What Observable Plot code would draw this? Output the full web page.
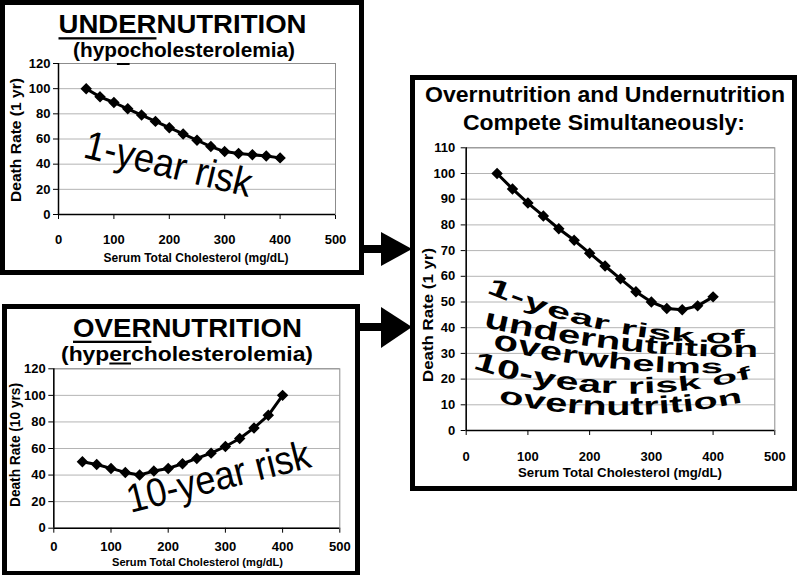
<!DOCTYPE html>
<html><head><meta charset="utf-8">
<script src="https://cdn.jsdelivr.net/npm/d3@7"></script>
<script src="https://cdn.jsdelivr.net/npm/@observablehq/plot@0.6"></script>
<style>
html,body{margin:0;padding:0;background:#fff;}
#page{position:relative;width:800px;height:575px;overflow:hidden;background:#fff;}
#page svg{position:absolute;}
</style></head>
<body><div id="page"></div>
<script>
// ---------------- data ----------------
const cholesterol = [50, 75, 100, 125, 150, 175, 200, 225, 250, 275, 300, 325, 350, 375, 400];
const undernutritionRate = [100, 93.5, 89, 84, 79, 74, 69, 64, 59, 54, 50, 48.5, 47.5, 46.5, 45];
const overnutritionRate = [50, 48, 45, 42, 40, 43, 45, 48.5, 52.5, 56.5, 61.5, 67.5, 75.5, 85, 100];
const combinedRate = [100, 94, 88.5, 83.5, 78.5, 74, 69, 64, 59, 54, 50, 47.5, 47, 48.5, 52];
const xTicks = [0, 100, 200, 300, 400, 500];
const yTicksSingle = [0, 20, 40, 60, 80, 100, 120];
const yTicksCombined = [0, 10, 20, 30, 40, 50, 60, 70, 80, 90, 100, 110];
const xAxisTitle = "Serum Total Cholesterol (mg/dL)";
const yAxisTitles = ["Death Rate (1 yr)", "Death Rate (10 yrs)", "Death Rate (1 yr)"];
const panelTitles = ["UNDERNUTRITION", "OVERNUTRITION", "Overnutrition and Undernutrition"];
const panelSubtitles = ["(hypocholesterolemia)", "(hypercholesterolemia)", "Compete Simultaneously:"];
const riskLabels = [
  {text: "1-year risk", x: 198, y: 39.7},
  {text: "10-year risk", x: 288, y: 38.2}
];
const wordArtLines = [
  {text: "1-year risk of",  x: [31.3, 201.4, 452.5], y: [53.7, 40.1, 33.9], h: [13, 11, 10]},
  {text: "undernutrition",  x: [28.0, 185.2, 473.6], y: [40.1, 33.1, 28.4], h: [15, 13, 12]},
  {text: "overwhelms",      x: [42.6, 217.6, 416.9], y: [31.9, 24.5, 22.2], h: [15, 12.5, 10]},
  {text: "10-year risk of", x: [10.2, 201.4, 463.9], y: [24.1, 14.8, 20.2], h: [13.5, 12.5, 9]},
  {text: "overnutrition",   x: [52.3, 250.0, 449.3], y: [10.9, 5.8, 10.9], h: [12, 13.5, 10]}
];

// ---------------- helpers ----------------
const FONT = '"Liberation Sans", Arial, Helvetica, sans-serif';
const NARROW = '"Liberation Sans Narrow", "Arial Narrow", "Liberation Sans", Arial, sans-serif';
const page = document.getElementById("page");

function panel(cfg) {
  const data = cholesterol.map((c, i) => ({c, r: cfg.rates[i]}));
  const chart = Plot.plot({
    width: cfg.w, height: cfg.h,
    marginLeft: cfg.ml, marginRight: cfg.mr, marginTop: cfg.mt, marginBottom: cfg.mb,
    style: {fontFamily: FONT, fontSize: "13px", fontWeight: "bold", color: "#000", background: "transparent", overflow: "visible"},
    x: {domain: [0, 500], ticks: xTicks, tickSize: 5, tickPadding: cfg.xPad, label: null},
    y: {domain: [0, d3.max(cfg.yTicks)], ticks: cfg.yTicks, tickSize: 5, tickPadding: cfg.yPad, label: null},
    marks: [
      Plot.ruleY(cfg.yTicks.filter(d => d > 0), {stroke: "#b4b4b4", strokeWidth: 1}),
      Plot.frame({stroke: "#8c8c8c"}),
      Plot.ruleY([0], {stroke: "#000", strokeWidth: 1.5}),
      Plot.ruleX([0], {stroke: "#000", strokeWidth: 1.5}),
      Plot.line(data, {x: "c", y: "r", stroke: "#000", strokeWidth: 3}),
      Plot.dot(data, {x: "c", y: "r", symbol: "diamond2", r: 4.2, fill: "#000", stroke: "#000"}),
      ...(cfg.extra || [])
    ]
  });
  chart.style.left = cfg.x + "px";
  chart.style.top = cfg.y + "px";
  page.appendChild(chart);
  return chart;
}

function riskMark(label, rotate) {
  return Plot.text([label], {x: "x", y: "y", text: "text", rotate, fontSize: 40, fontWeight: "normal",
    fontFamily: NARROW, textAnchor: "middle", lineAnchor: "middle", fill: "#000"});
}
function fitText(chart, content, len) {
  d3.select(chart).selectAll("text").filter(function () { return this.textContent === content; })
    .attr("textLength", len).attr("lengthAdjust", "spacingAndGlyphs");
}

// ---------------- panels ----------------
const chart1 = panel({rates: undernutritionRate, yTicks: yTicksSingle, x: 5, y: 5, w: 354, h: 265,
  ml: 53, mr: 24, mt: 58, mb: 56, xPad: 14.8, yPad: 3, extra: [riskMark(riskLabels[0], 13.6)]});
const chart2 = panel({rates: overnutritionRate, yTicks: yTicksSingle, x: 7, y: 309, w: 348, h: 262,
  ml: 46.3, mr: 15.7, mt: 59.3, mb: 43.3, xPad: 8.8, yPad: 3, extra: [riskMark(riskLabels[1], -14.2)]});
const chart3 = panel({rates: combinedRate, yTicks: yTicksCombined, x: 415, y: 80, w: 377, h: 406,
  ml: 50.7, mr: 17.7, mt: 67.3, mb: 56, xPad: 15.8, yPad: 6});
fitText(chart1, riskLabels[0].text, 171);
fitText(chart2, riskLabels[1].text, 188);

// WordArt-style warped text in panel 3, positioned through the chart's scales
function scaleOf(chart, name) {
  const s = chart.scale(name);
  return d3.scaleLinear(s.domain, s.range);
}
(function drawWordArt() {
  const sx = scaleOf(chart3, "x"), sy = scaleOf(chart3, "y");
  const g = d3.select(chart3).append("g")
    .attr("font-family", FONT).attr("font-weight", "bold")
    .attr("font-size", 100).attr("fill", "#000");
  for (const L of wordArtLines) {
    const px = L.x.map(sx), py = L.y.map(sy);
    const m = g.append("text").attr("x", 0).attr("y", -2000).style("white-space", "pre").text(L.text);
    const node = m.node();
    const chars = Array.from(L.text);
    const widths = chars.map((_, i) => node.getSubStringLength(i, 1));
    m.remove();
    const W = d3.sum(widths);
    const kx = (px[2] - px[0]) / W;
    const lag = (vals, X) => {
      const [x0, x1, x2] = px, [v0, v1, v2] = vals;
      return v0 * (X - x1) * (X - x2) / ((x0 - x1) * (x0 - x2))
           + v1 * (X - x0) * (X - x2) / ((x1 - x0) * (x1 - x2))
           + v2 * (X - x0) * (X - x1) / ((x2 - x0) * (x2 - x1));
    };
    let cum = 0;
    chars.forEach((ch, i) => {
      const c = cum + widths[i] / 2; cum += widths[i];
      if (ch === " ") return;
      const X = px[0] + c * kx;
      const Y = lag(py, X);
      const slope = (lag(py, X + 1) - lag(py, X - 1)) / 2;
      const ang = Math.atan(slope) * 180 / Math.PI;
      const ky = lag(L.h, X) / 51.9;
      g.append("text").attr("text-anchor", "middle")
        .attr("transform", `translate(${X},${Y}) rotate(${ang}) scale(${kx},${ky})`).text(ch);
    });
  }
})();

// ---------------- overlay: frames, arrows, titles ----------------
const ov = d3.create("svg").attr("width", 800).attr("height", 575)
  .style("left", "0px").style("top", "0px").style("pointer-events", "none");
page.appendChild(ov.node());

[[2.5, 2.5, 359, 270], [4.5, 306.5, 353, 267], [412.5, 77.5, 382, 411]].forEach(([x, y, w, h]) =>
  ov.append("rect").attr("x", x).attr("y", y).attr("width", w).attr("height", h)
    .attr("fill", "none").attr("stroke", "#000").attr("stroke-width", 5));

[[360, 249, 232, 266], [355, 327, 307, 348]].forEach(([x0, cy, t, b]) => {
  ov.append("rect").attr("x", x0).attr("y", cy - 4).attr("width", 383 - x0).attr("height", 8).attr("fill", "#000");
  ov.append("polygon").attr("points", `381,${t} 381,${b} 412,${cy}`).attr("fill", "#000");
});

function addText({text, x, y, size, len, weight = "bold", rotate = 0, family = FONT}) {
  const t = ov.append("text").attr("text-anchor", "middle").attr("font-size", size)
    .attr("font-weight", weight).attr("font-family", family).attr("fill", "#000").text(text);
  if (rotate) t.attr("transform", `translate(${x},${y}) rotate(${rotate})`);
  else t.attr("x", x).attr("y", y);
  if (len) t.attr("textLength", len).attr("lengthAdjust", "spacingAndGlyphs");
  return t;
}
function underline(t, i0, i1, y, thick) {
  const n = t.node();
  const a = n.getStartPositionOfChar(i0).x, b = n.getEndPositionOfChar(i1).x;
  ov.append("rect").attr("x", a).attr("y", y).attr("width", b - a).attr("height", thick).attr("fill", "#000");
}

const t1 = addText({text: panelTitles[0], x: 182.5, y: 33.3, size: 26.5, len: 248});
underline(t1, 0, 4, 37.2, 2.3);
const s1 = addText({text: panelSubtitles[0], x: 184, y: 57.3, size: 20.5, len: 222});
underline(s1, 4, 4, 63, 2);
const t2 = addText({text: panelTitles[1], x: 187.5, y: 336.8, size: 26, len: 229});
underline(t2, 0, 3, 340.7, 2.3);
const s2 = addText({text: panelSubtitles[1], x: 187, y: 360.5, size: 20.5, len: 252});
underline(s2, 4, 5, 362.5, 2);
addText({text: panelTitles[2], x: 605, y: 101.7, size: 22, len: 360});
addText({text: panelSubtitles[2], x: 604, y: 130, size: 22, len: 282});

addText({text: xAxisTitle, x: 196, y: 262, size: 13, len: 185, family: NARROW});
addText({text: xAxisTitle, x: 197.5, y: 565.5, size: 11.5, len: 171, family: NARROW});
addText({text: xAxisTitle, x: 620, y: 476.7, size: 13.5, len: 204, family: NARROW});

addText({text: yAxisTitles[0], x: 20.5, y: 140, size: 14.5, len: 124, rotate: -90});
addText({text: yAxisTitles[1], x: 19.5, y: 445, size: 14.5, len: 124, rotate: -90});
addText({text: yAxisTitles[2], x: 433, y: 315, size: 15, len: 134, rotate: -90});
</script>
</body></html>
